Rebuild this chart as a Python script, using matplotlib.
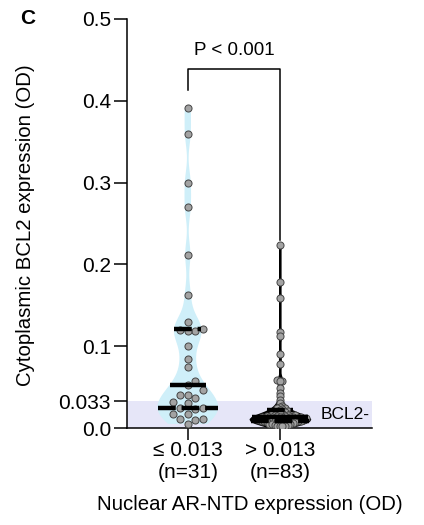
import matplotlib
matplotlib.use("Agg")
import matplotlib.pyplot as plt
import numpy as np

plt.rcParams['font.family'] = ['Liberation Sans', 'DejaVu Sans']

# === data (OD values) === #
group_labels = ['\u2264 0.013\n(n=31)', '> 0.013\n(n=83)']
low_ar = [0.391, 0.360, 0.300, 0.270, 0.212, 0.162, 0.130,
          0.121, 0.119, 0.118, 0.120, 0.100, 0.084, 0.074,
          0.057, 0.053, 0.046, 0.040, 0.040, 0.037, 0.032, 0.030,
          0.023, 0.024, 0.024, 0.017, 0.017, 0.011, 0.011, 0.010, 0.005]
high_ar = [0.224, 0.178, 0.159, 0.117, 0.112, 0.091, 0.078, 0.059, 0.057,
           0.057, 0.049, 0.043, 0.039, 0.034, 0.030,
           0.027, 0.026, 0.025, 0.024, 0.023, 0.022, 0.021, 0.020,
           0.019, 0.019, 0.018, 0.018, 0.017, 0.017, 0.016, 0.016, 0.016,
           0.015, 0.015, 0.015, 0.014, 0.014, 0.014, 0.014,
           0.013, 0.013, 0.013, 0.013, 0.012, 0.012, 0.012, 0.012, 0.012,
           0.011, 0.011, 0.011, 0.011, 0.011, 0.010, 0.010, 0.010, 0.010, 0.010,
           0.009, 0.009, 0.009, 0.009, 0.009, 0.008, 0.008, 0.008, 0.008,
           0.007, 0.007, 0.007, 0.007, 0.006, 0.006, 0.006,
           0.005, 0.005, 0.005, 0.004, 0.004, 0.003, 0.003, 0.002, 0.002]
bcl2_cutoff = 0.033
y_ticks = [0.0, 0.033, 0.1, 0.2, 0.3, 0.4, 0.5]
y_ticklabels = ['0.0', '0.033', '0.1', '0.2', '0.3', '0.4', '0.5']
p_text = 'P < 0.001'


def swarm(vals, center, d_px, ax):
    """simple beeswarm: offsets on a grid of d_px pixels"""
    tr = ax.transData
    ypx = np.array([tr.transform((0, v))[1] for v in vals])
    xscale = tr.transform((1, 0))[0] - tr.transform((0, 0))[0]
    cands = [0.0]
    for j in range(1, 40):
        cands += [j * d_px, -j * d_px]
    placed = []
    xs = np.zeros(len(vals))
    for i in np.argsort(ypx):
        y = ypx[i]
        for c in cands:
            if all((c - px)**2 + (y - py)**2 >= d_px**2 * 0.999 for px, py in placed):
                break
        placed.append((c, y))
        xs[i] = c
    return center + xs / xscale


def half_width(body, y):
    v = body.get_paths()[0].vertices
    x0 = v[:, 0].mean()
    right = v[v[:, 0] >= x0]
    order = np.argsort(right[:, 1])
    return np.interp(y, right[order, 1], right[order, 0]) - x0


fig = plt.figure(figsize=(4.24, 5.25), dpi=100)
ax = fig.add_axes([127/424, 97/525, 245/424, 409/525])
ax.set_xlim(-0.66, 2.0)
ax.set_ylim(0, 0.5)

# BCL2- band
ax.axhspan(0, bcl2_cutoff, color='#e6e6f8', zorder=0, lw=0)
ax.text(1.44, 0.016, 'BCL2-', fontsize=12.5, va='center', ha='left')

groups = [low_ar, high_ar]
styles = [dict(fc='#cfeff9', ec='none', bw=0.15, w=0.66, d=7.6),
          dict(fc='black', ec='black', bw=0.12, w=0.65, d=2.6)]

for pos, (vals, st) in enumerate(zip(groups, styles)):
    parts = ax.violinplot([vals], positions=[pos], widths=st['w'],
                          showextrema=False, bw_method=st['bw'])
    body = parts['bodies'][0]
    body.set_facecolor(st['fc'])
    body.set_edgecolor(st['ec'])
    body.set_linewidth(1.3)
    body.set_alpha(1)
    body.set_zorder(1)

    xs = swarm(vals, pos, st['d'], ax)
    ax.scatter(xs, vals, s=26, facecolor='#a3a3a3', edgecolor='#444444',
               linewidth=0.7, zorder=3)

    q1, med, q3 = np.percentile(vals, [25, 50, 75])
    for q, ls in [(q1, (0, (4, 1.3))), (med, '-'), (q3, (0, (4, 1.3)))]:
        hw = max(half_width(body, q), 0.14)
        ax.plot([pos - hw, pos + hw], [q, q], color='black', lw=3.2,
                ls=ls, solid_capstyle='butt', dash_capstyle='butt', zorder=4)

# significance bracket
ax.plot([0, 0, 1, 1], [0.413, 0.439, 0.439, 0.230], color='black', lw=1.1,
        clip_on=False)
ax.text(0.5, 0.462, p_text, ha='center', va='center', fontsize=13.5)

# axes styling
for s in ['top', 'right']:
    ax.spines[s].set_visible(False)
for s in ['left', 'bottom']:
    ax.spines[s].set_linewidth(1.1)
ax.set_yticks(y_ticks)
ax.set_yticklabels(y_ticklabels, fontsize=15)
ax.set_xticks([0, 1])
ax.set_xticklabels(group_labels, fontsize=15, linespacing=1.2)
ax.tick_params(axis='y', length=9.5, width=1.1, pad=2)
ax.tick_params(axis='x', length=8.5, width=1.1, pad=1)

fig.text(26/424, 1 - 225/525, 'Cytoplasmic BCL2 expression (OD)', rotation=90,
         ha='center', va='center', fontsize=14.7)
fig.text(250/424, 1 - 505/525, 'Nuclear AR-NTD expression (OD)',
         ha='center', va='center', fontsize=14.7)
fig.text(28/424, 1 - 19/525, 'C', ha='center', va='center', fontsize=15,
         fontweight='bold')

fig.savefig('out.png', dpi=100)
